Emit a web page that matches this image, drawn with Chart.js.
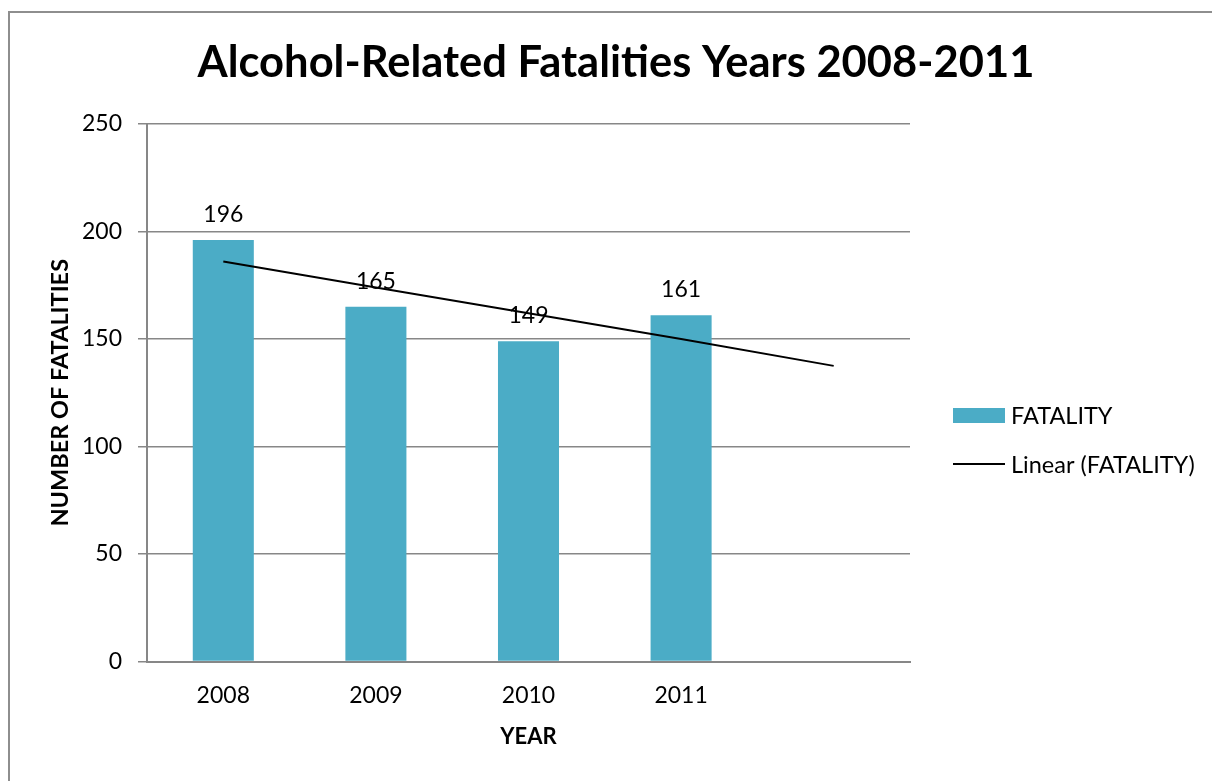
<!DOCTYPE html>
<html>
<head>
<meta charset="utf-8">
<title>Alcohol-Related Fatalities</title>
<script src="https://cdn.jsdelivr.net/npm/chart.js@4"></script>
<style>
  html, body { margin: 0; padding: 0; background: #fff; overflow: hidden; }
  #frame {
    position: absolute; left: 8px; top: 11px; width: 1300px; height: 900px;
    border-left: 2px solid #8e8e8e; border-top: 2px solid #8e8e8e;
  }
  #wrap { position: absolute; left: 0; top: 0; width: 1212px; height: 781px; }
</style>
</head>
<body>
<div id="frame"></div>
<div id="wrap"><canvas id="fatalityChart" width="1212" height="781"></canvas></div>
<script>
const years = ['2008', '2009', '2010', '2011', ''];
const fatalities = [196, 165, 149, 161];
// linear trend, carried one period forward
const trendValues = [186, 174, 162, 150, 137.5];
const yTicks = [0, 50, 100, 150, 200, 250];

const FONT = 'Lato, "Open Sans", sans-serif';
const GRID = '#878787';

// chart title and the side legend are painted by hand
const extrasPlugin = {
    id: 'extras',
    afterDraw(chart) {
        const ctx = chart.ctx;
        ctx.save();
        ctx.fillStyle = '#000';
        ctx.font = 'bold 43.5px ' + FONT;
        ctx.textAlign = 'center';
        ctx.textBaseline = 'alphabetic';
        ctx.fillText('Alcohol-Related Fatalities Years 2008-2011', 616, 77);

        const ds = chart.data.datasets;
        ctx.font = '23.5px ' + FONT;
        ctx.textAlign = 'left';
        ctx.textBaseline = 'middle';
        // bar entry
        ctx.fillStyle = ds[0].backgroundColor;
        ctx.fillRect(953, 408, 52, 15);
        ctx.fillStyle = '#000';
        ctx.fillText(ds[0].label, 1011, 416);
        // trend entry
        ctx.strokeStyle = ds[1].borderColor;
        ctx.lineWidth = 2;
        ctx.beginPath();
        ctx.moveTo(953, 464);
        ctx.lineTo(1005, 464);
        ctx.stroke();
        ctx.fillText(ds[1].label, 1011, 465);
        ctx.restore();
    }
};

// value labels above each bar
const barLabelPlugin = {
    id: 'barLabels',
    afterDatasetsDraw(chart) {
        const ctx = chart.ctx;
        const meta = chart.getDatasetMeta(0);
        ctx.save();
        ctx.fillStyle = '#000';
        ctx.font = '23px ' + FONT;
        ctx.textAlign = 'center';
        ctx.textBaseline = 'alphabetic';
        meta.data.forEach((bar, i) => {
            ctx.fillText(String(fatalities[i]), bar.x, bar.y - 18);
        });
        ctx.restore();
    }
};

const ctx = document.getElementById('fatalityChart').getContext('2d');
const chart = new Chart(ctx, {
    type: 'bar',
    data: {
        labels: years,
        datasets: [{
            label: 'FATALITY',
            data: fatalities,
            backgroundColor: '#4BACC6',
            borderWidth: 0,
            barPercentage: 1,
            categoryPercentage: 0.4,
            order: 1
        }, {
            type: 'line',
            label: 'Linear (FATALITY)',
            data: trendValues,
            borderColor: '#000',
            borderWidth: 2,
            pointRadius: 0,
            tension: 0,
            fill: false,
            order: 0
        }]
    },
    options: {
        responsive: false,
        animation: false,
        layout: { padding: { top: 124, right: 302, bottom: 0, left: 0 } },
        plugins: {
            legend: { display: false },
            title: { display: false },
            tooltip: { enabled: false }
        },
        scales: {
            x: {
                grid: { display: false, drawTicks: false },
                border: { display: true, color: GRID, width: 2 },
                ticks: { color: '#000', font: { family: FONT, size: 23 }, padding: 20 },
                title: {
                    display: true, text: 'YEAR', color: '#000',
                    font: { family: FONT, size: 22, weight: 'bold' },
                    padding: { top: 0, bottom: 31 }
                },
                afterFit(scale) { scale.height = 119.5; }
            },
            y: {
                min: 0,
                max: 250,
                afterBuildTicks(scale) { scale.ticks = yTicks.map(v => ({ value: v })); },
                grid: { color: GRID, lineWidth: 1.5, tickLength: 9 },
                border: { display: true, color: GRID, width: 2 },
                ticks: { color: '#000', font: { family: FONT, size: 23 }, padding: 16 },
                title: {
                    display: true, text: 'NUMBER OF FATALITIES', color: '#000',
                    font: { family: FONT, size: 23.5, weight: 'bold' },
                    padding: { top: 46, bottom: 0 }
                },
                afterFit(scale) { scale.width = 147; }
            }
        }
    },
    plugins: [extrasPlugin, barLabelPlugin]
});
</script>
</body>
</html>
